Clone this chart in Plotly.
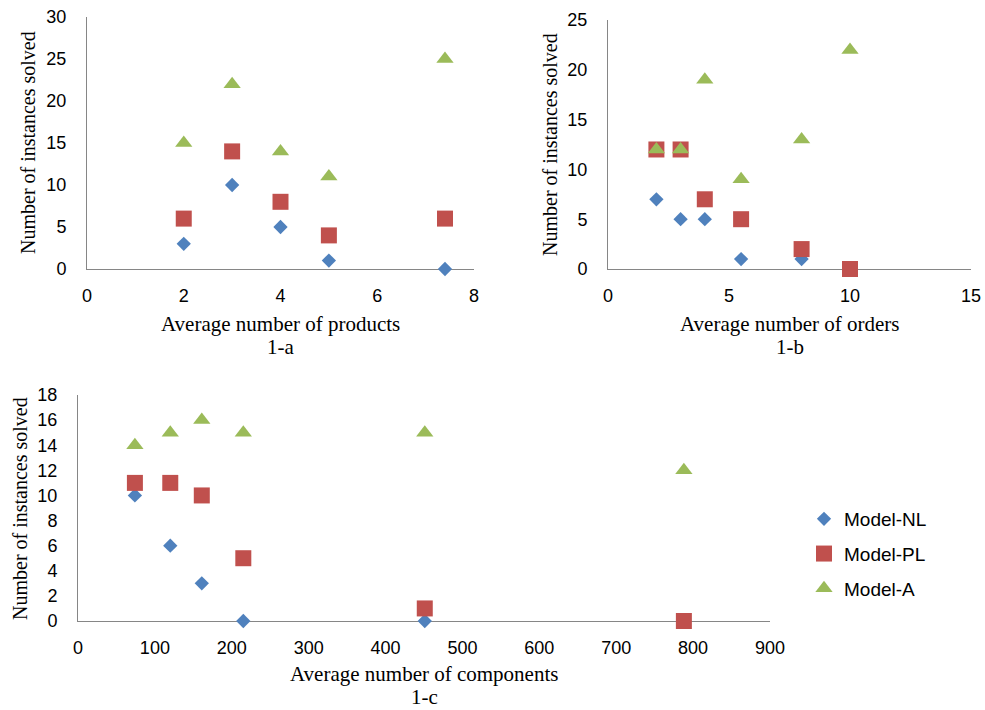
import plotly.graph_objects as go

# ---- data ----
a_x = [2, 3, 4, 5, 7.4]
a_nl = [3, 10, 5, 1, 0]
a_pl = [6, 14, 8, 4, 6]
a_a = [15, 22, 14, 11, 25]

b_x = [2, 3, 4, 5.5, 8, 10]
b_nl = [7, 5, 5, 1, 1, 0]
b_pl = [12, 12, 7, 5, 2, 0]
b_a = [12, 12, 19, 9, 13, 22]

c_x = [74, 120, 161, 215, 451, 788]
c_nl = [10, 6, 3, 0, 0, 0]
c_pl = [11, 11, 10, 5, 1, 0]
c_a = [14, 15, 16, 15, 15, 12]

series_names = ["Model-NL", "Model-PL", "Model-A"]
colors = ["#4F81BD", "#C0504D", "#9BBB59"]
symbols = ["diamond", "square", "triangle-up"]
sizes = [11, 16, 15]

W, H = 985, 710

fig = go.Figure()

panels = [
    ("x", "y", a_x, [a_nl, a_pl, a_a]),
    ("x2", "y2", b_x, [b_nl, b_pl, b_a]),
    ("x3", "y3", c_x, [c_nl, c_pl, c_a]),
]
for pi, (xa, ya, xs, ys_list) in enumerate(panels):
    for si, ys in enumerate(ys_list):
        fig.add_trace(go.Scatter(
            x=xs, y=ys, mode="markers", xaxis=xa, yaxis=ya,
            name=series_names[si], legendgroup=series_names[si],
            showlegend=(pi == 0), cliponaxis=False,
            marker=dict(symbol=symbols[si], color=colors[si], size=sizes[si],
                        line=dict(width=0)),
        ))

def px_x(p):
    return p / W

def px_y(p):
    return 1 - p / H

tick_font = dict(family="Liberation Sans, Arial, sans-serif", size=18, color="#000000")
xtitle_font = dict(family="Liberation Serif, Times New Roman, serif", size=21, color="#000000")
ytitle_font = dict(family="Liberation Serif, Times New Roman, serif", size=20, color="#000000")

def axis(domain, rng, dtick, anchor, standoff):
    return dict(domain=domain, range=rng, dtick=dtick, tick0=0, anchor=anchor,
                automargin=False,
                showgrid=False, zeroline=False, showline=True, linecolor="#868686",
                linewidth=1, ticks="", tickfont=tick_font, layer="below traces",
                ticklabelstandoff=standoff, fixedrange=True)

# plot areas (pixels)
A = dict(x0=87, x1=474, y0=17, y1=269)
B = dict(x0=608, x1=971, y0=20, y1=269)
C = dict(x0=78, x1=770, y0=395, y1=621)

fig.update_layout(
    width=W, height=H,
    margin=dict(l=0, r=0, t=0, b=0, autoexpand=False),
    paper_bgcolor="white", plot_bgcolor="white",
    xaxis=axis([px_x(A["x0"]), px_x(A["x1"])], [0, 8], 2, "y", 10),
    yaxis=axis([px_y(A["y1"]), px_y(A["y0"])], [0, 30], 5, "x", 16),
    xaxis2=axis([px_x(B["x0"]), px_x(B["x1"])], [0, 15], 5, "y2", 10),
    yaxis2=axis([px_y(B["y1"]), px_y(B["y0"])], [0, 25], 5, "x2", 16),
    xaxis3=axis([px_x(C["x0"]), px_x(C["x1"])], [0, 900], 100, "y3", 10),
    yaxis3=axis([px_y(C["y1"]), px_y(C["y0"])], [0, 18], 2, "x3", 16),
    legend=dict(x=px_x(804), y=px_y(500), xanchor="left", yanchor="top",
                font=dict(family="Liberation Sans, Arial, sans-serif", size=19, color="#000000"),
                tracegroupgap=7, bgcolor="rgba(0,0,0,0)"),
    showlegend=True,
)

annotations = [
    ("Average number of products", 280.5, 324, 0, xtitle_font),
    ("1-a", 280.5, 347, 0, xtitle_font),
    ("Average number of orders", 789.5, 324, 0, xtitle_font),
    ("1-b", 789.5, 347, 0, xtitle_font),
    ("Average number of components", 424, 674, 0, xtitle_font),
    ("1-c", 424, 697, 0, xtitle_font),
    ("Number of instances solved", 28, 143, -90, ytitle_font),
    ("Number of instances solved", 550, 145, -90, ytitle_font),
    ("Number of instances solved", 20, 509, -90, ytitle_font),
]
for text, xp, yp, ang, fnt in annotations:
    fig.add_annotation(text=text, x=px_x(xp), y=px_y(yp), xref="paper", yref="paper",
                       xanchor="center", yanchor="middle", showarrow=False,
                       textangle=ang, font=fnt)

fig.write_html("out.html", config={"displayModeBar": False},
               post_script="document.body.style.margin='0px';")
